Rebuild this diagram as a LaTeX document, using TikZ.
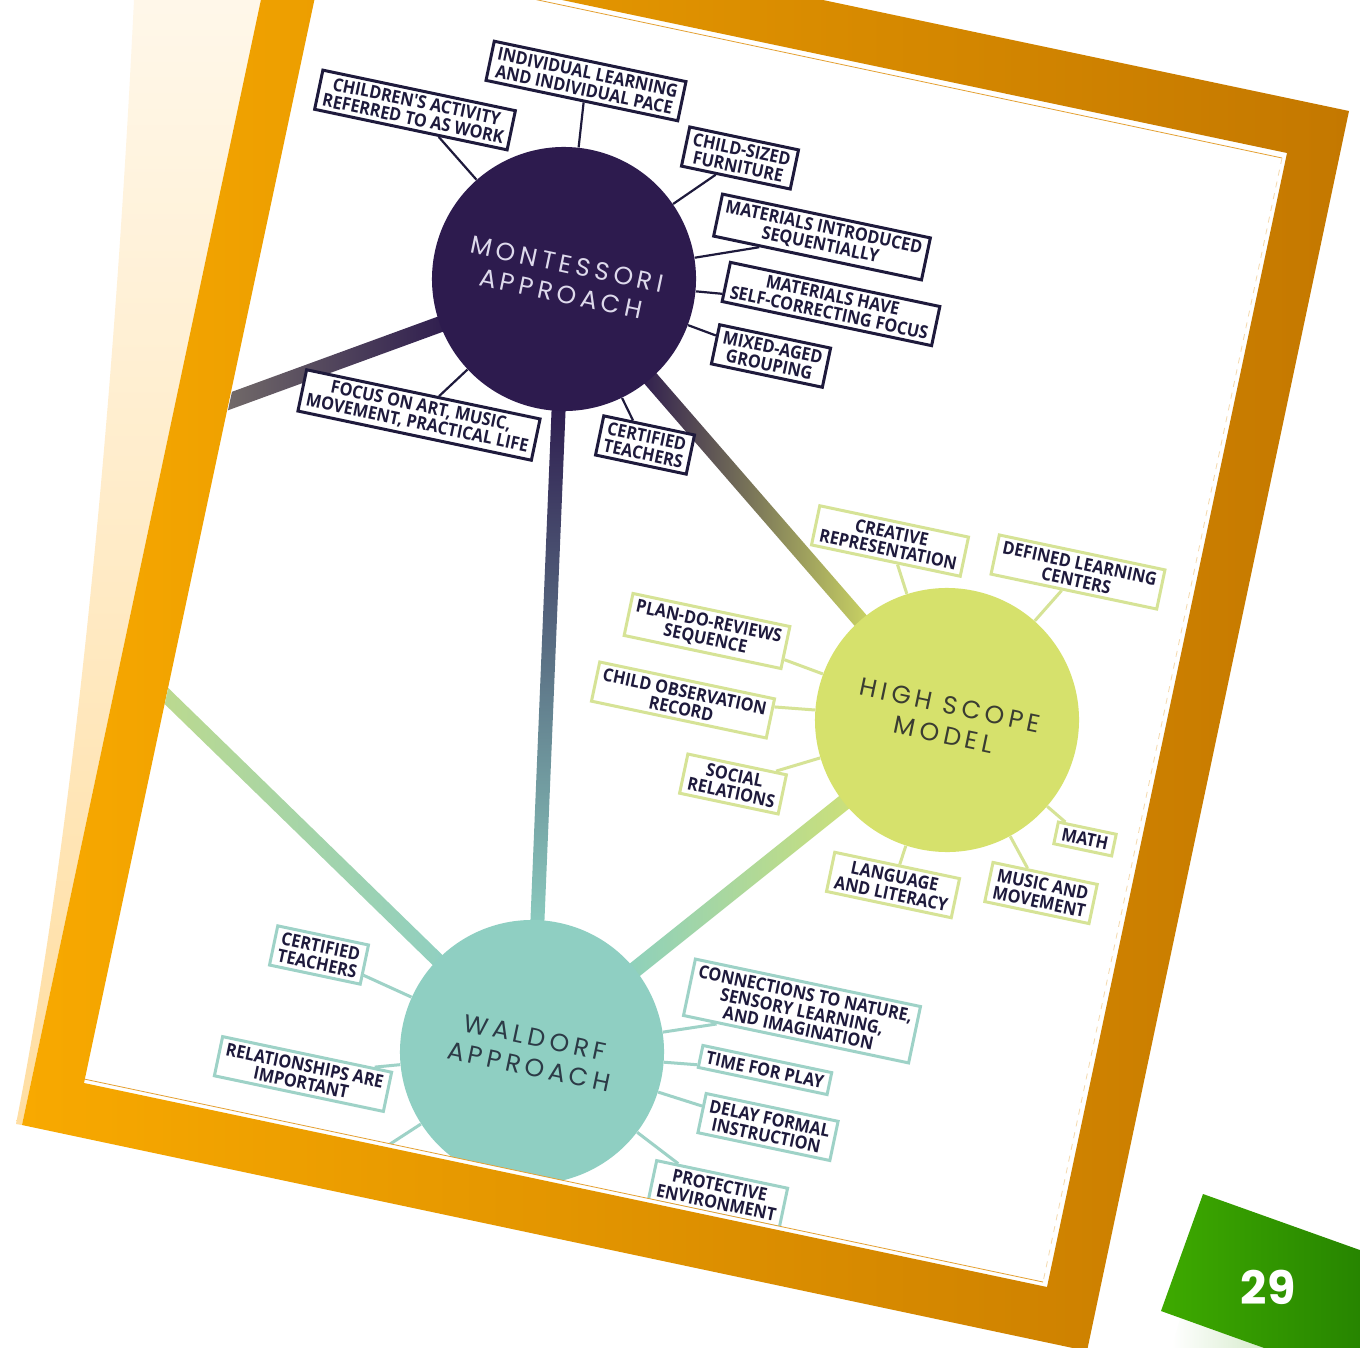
\documentclass[tikz,border=0pt]{standalone}
\usepackage{fontspec}
\usetikzlibrary{calc}
\newfontfamily\leaffont[FakeStretch=0.9]{Open Sans}
\newfontfamily\hubfont[LetterSpace=18]{Poppins}
\newfontfamily\numfont{Poppins}
\definecolor{mpurple}{RGB}{45,27,78}
\definecolor{mnavy}{RGB}{30,26,60}
\definecolor{mtext}{RGB}{222,218,236}
\definecolor{hgreen}{RGB}{214,225,108}
\definecolor{hline}{RGB}{214,227,150}
\definecolor{htext}{RGB}{58,60,50}
\definecolor{wteal}{RGB}{143,207,194}
\definecolor{wline}{RGB}{158,210,199}
\definecolor{wtext}{RGB}{44,58,70}
\definecolor{frameL}{RGB}{248,169,0}
\definecolor{frameR}{RGB}{196,120,0}
\definecolor{creamT}{RGB}{255,250,241}
\definecolor{creamB}{RGB}{255,222,162}
\definecolor{badgeL}{RGB}{62,170,0}
\definecolor{badgeR}{RGB}{32,122,0}
\definecolor{edgeline}{RGB}{228,160,50}
\tikzset{
  leaf/.style={draw, line width=1.5pt, fill=white, rotate=-11.9, align=center,
    inner xsep=3pt, inner ysep=2.3pt, text=mnavy,
    font=\leaffont\bfseries\fontsize{9}{8.8}\selectfont},
  hub/.style={circle, minimum size=132pt, inner sep=0pt, rotate=-11.9,
    align=center, font=\hubfont\fontsize{12.5}{15}\selectfont},
}
\newcommand{\branch}[6]{%
  \path ($(#1)!#3!(#2)$) coordinate (bs) ($(#2)!#4!(#1)$) coordinate (be);
  \shade[#6] ($(bs)!#5!90:(be)$) -- ($(bs)!#5!-90:(be)$)
    -- ($(be)!#5!90:(bs)$) -- ($(be)!#5!-90:(bs)$) -- cycle;}

\begin{document}
\begin{tikzpicture}[x=0.5pt, y=-0.5pt]
   \useasboundingbox (0,0) rectangle (1360,1348);
   \clip (0,0) rectangle (1360,1348);
   \fill[white] (0,0) rectangle (1360,1348);
   \shade[top color=creamT, bottom color=creamB]
     (140,-120) -- (134,0) .. controls (112,450) and (70,850) .. (16,1124)
     -- (22,1125) -- (285,-113.5) -- cycle;
   \shade[left color=frameL, right color=frameR, even odd rule]
     (285,-113.5) -- (1349,111) -- (1087,1351) -- (22,1125) -- cycle
     (325,-50) -- (1287,153) -- (1047,1287) -- (84,1083) -- cycle;
   \begin{scope}
    \clip (326,-45) -- (1282,158) -- (1043,1282) -- (84,1079) -- cycle;
    \coordinate (mc) at (564,279);
    \coordinate (hc) at (947,720);
    \coordinate (wc) at (532,1052);
    \coordinate (mfar) at (200,412);
    \coordinate (wfar) at (150,680);
    \branch{mc}{mfar}{60pt}{0pt}{4pt}{left color={rgb,255:red,122;green,116;blue,108}, right color=mpurple}
    \branch{wc}{wfar}{60pt}{0pt}{3.5pt}{left color={rgb,255:red,190;green,218;blue,140}, right color=wteal}
    \branch{mc}{wc}{60pt}{60pt}{3.5pt}{top color=mpurple, middle color={rgb,255:red,60;green,80;blue,115}, bottom color={rgb,255:red,140;green,205;blue,192}}
    \branch{mc}{hc}{60pt}{60pt}{4pt}{left color=mpurple, middle color={rgb,255:red,100;green,95;blue,90}, right color={rgb,255:red,205;green,215;blue,100}}
    \branch{hc}{wc}{60pt}{60pt}{4pt}{left color={rgb,255:red,140;green,208;blue,190}, right color={rgb,255:red,205;green,224;blue,120}}
    \node[hub, fill=mpurple, text=mtext] (mont) at (mc) {MONTESSORI\\APPROACH};
    \node[hub, fill=hgreen, text=htext] (high) at (hc) {HIGH SCOPE\\MODEL};
    \node[hub, fill=wteal, text=wtext] (wald) at (wc) {WALDORF\\APPROACH};
    \begin{scope}[every node/.style={leaf, draw=mnavy}]
     \node (m1) at (415,110) {CHILDREN'S ACTIVITY\\REFERRED TO AS WORK};
     \node (m2) at (586,81) {INDIVIDUAL LEARNING\\AND INDIVIDUAL PACE};
     \node (m3) at (740,158) {CHILD-SIZED\\FURNITURE};
     \node (m4) at (822,237) {MATERIALS INTRODUCED\\SEQUENTIALLY};
     \node (m5) at (831,304) {MATERIALS HAVE\\SELF-CORRECTING FOCUS};
     \node (m6) at (771,356) {MIXED-AGED\\GROUPING};
     \node (m7) at (645,445) {CERTIFIED\\TEACHERS};
     \node (m8) at (419,415) {FOCUS ON ART, MUSIC,\\MOVEMENT, PRACTICAL LIFE};
    \end{scope}
    \begin{scope}[every node/.style={leaf, draw=hline}]
     \node (h1) at (890,541) {CREATIVE\\REPRESENTATION};
     \node (h2) at (1078,572) {DEFINED LEARNING\\CENTERS};
     \node (h3) at (707,631) {PLAN-DO-REVIEWS\\SEQUENCE};
     \node (h4) at (683,700) {CHILD OBSERVATION\\RECORD};
     \node (h5) at (733,784) {SOCIAL\\RELATIONS};
     \node (h6) at (1085,839) {MATH};
     \node (h7) at (1041,893) {MUSIC AND\\MOVEMENT};
     \node (h8) at (893,885) {LANGUAGE\\AND LITERACY};
    \end{scope}
    \begin{scope}[every node/.style={leaf, draw=wline}]
     \node (w1) at (319,955) {CERTIFIED\\TEACHERS};
     \node (w2) at (303,1074) {RELATIONSHIPS ARE\\IMPORTANT};
     \node (w3) at (802,1011) {CONNECTIONS TO NATURE,\\SENSORY LEARNING,\\AND IMAGINATION};
     \node (w4) at (765,1070) {TIME FOR PLAY};
     \node (w5) at (768,1127) {DELAY FORMAL\\INSTRUCTION};
     \node (w6) at (718,1194) {PROTECTIVE\\ENVIRONMENT};
    \end{scope}
    \coordinate (w7) at (350,1170);
    \begin{scope}[line width=1.1pt, mnavy]
     \draw (m1) -- (mont);
     \draw (m2) -- (mont);
     \draw (m3) -- (mont);
     \draw (m4) -- (mont);
     \draw (m5) -- (mont);
     \draw (m6) -- (mont);
     \draw (m7) -- (mont);
     \draw (m8) -- (mont);
    \end{scope}
    \begin{scope}[line width=1.5pt, hline]
     \draw (h1) -- (high);
     \draw (h2) -- (high);
     \draw (h3) -- (high);
     \draw (h4) -- (high);
     \draw (h5) -- (high);
     \draw (h6) -- (high);
     \draw (h7) -- (high);
     \draw (h8) -- (high);
    \end{scope}
    \begin{scope}[line width=1.5pt, wline]
     \draw (w1) -- (wald);
     \draw (w2) -- (wald);
     \draw (w3) -- (wald);
     \draw (w4) -- (wald);
     \draw (w5) -- (wald);
     \draw (w6) -- (wald);
     \draw (w7) -- (wald);
    \end{scope}
   \end{scope}
   \draw[edgeline, line width=0.4pt] (326,-45) -- (1282,158);
   \draw[edgeline, line width=0.4pt] (84,1079) -- (1043,1282);
   \draw[edgeline!40, line width=0.4pt, dashed] (1282,158) -- (1043,1282);
   \shade[left color=white, right color={rgb,255:red,215;green,236;blue,205}]
     (1181,1316) -- (1263,1348) -- (1172,1348) -- cycle;
   \shade[left color=badgeL, right color=badgeR]
     (1203,1194) -- (1420,1271.5) -- (1420,1404) -- (1161,1311) -- cycle;
   \node[text=white, font=\numfont\bfseries\fontsize{23}{23}\selectfont] (pnum) at (1268,1287) {29};
\end{tikzpicture}
\end{document}
